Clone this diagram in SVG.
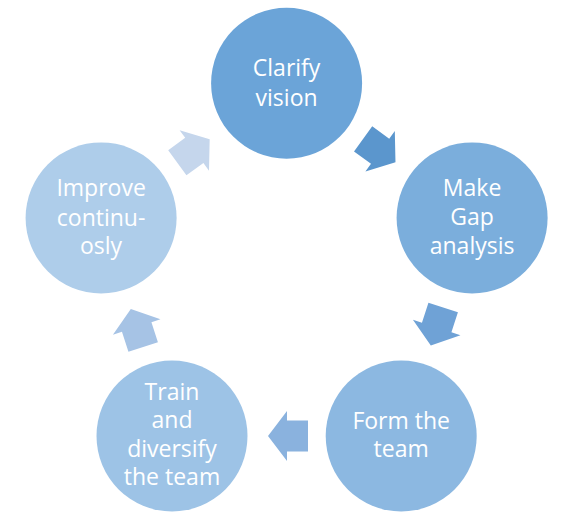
<svg xmlns="http://www.w3.org/2000/svg" width="577" height="525" viewBox="0 0 577 525">
<defs>
<style>
.lbl{font-family:"Open Sans","Noto Sans",sans-serif;font-size:23px;fill:#ffffff;text-anchor:middle}
</style>
<path id="arr" d="M-20,-15.5 L1,-15.5 L1,-25 L20,0 L1,25 L1,15.5 L-20,15.5 Z"/>
</defs>
<rect width="577" height="525" fill="#ffffff"/>
<g id="connectors">
<use href="#arr" transform="translate(379.3,150.6) rotate(36)" fill="#5B96CD"/>
<use href="#arr" transform="translate(437,326.5) rotate(108)" fill="#6FA2D6"/>
<use href="#arr" transform="translate(288,436) rotate(180)" fill="#8AB2DE"/>
<use href="#arr" transform="translate(137,328) rotate(252)" fill="#A6C3E5"/>
<use href="#arr" transform="translate(193.5,151) rotate(324)" fill="#C5D6EC"/>
</g>
<g id="n1">
<circle cx="286.6" cy="83.2" r="75.5" fill="#6BA4D8"/>
<text class="lbl" x="286.6" y="76">Clarify</text>
<text class="lbl" x="286.6" y="105.5">vision</text>
</g>
<g id="n2">
<circle cx="472.1" cy="217.9" r="75.5" fill="#7BAEDC"/>
<text class="lbl" x="472.1" y="196">Make</text>
<text class="lbl" x="472.1" y="225">Gap</text>
<text class="lbl" x="472.1" y="253.5">analysis</text>
</g>
<g id="n3">
<circle cx="401.2" cy="436" r="75.5" fill="#8CB8E1"/>
<text class="lbl" x="401.2" y="428.5">Form the</text>
<text class="lbl" x="401.2" y="457">team</text>
</g>
<g id="n4">
<circle cx="172" cy="436" r="75.5" fill="#9DC3E6"/>
<text class="lbl" x="172" y="399.5">Train</text>
<text class="lbl" x="172" y="428">and</text>
<text class="lbl" x="172" y="456.5">diversify</text>
<text class="lbl" x="172" y="485">the team</text>
</g>
<g id="n5">
<circle cx="101.1" cy="217.9" r="75.5" fill="#AECDEA"/>
<text class="lbl" x="101.1" y="196">Improve</text>
<text class="lbl" x="101.1" y="225.5">continu-</text>
<text class="lbl" x="101.1" y="253.5">osly</text>
</g>
</svg>
